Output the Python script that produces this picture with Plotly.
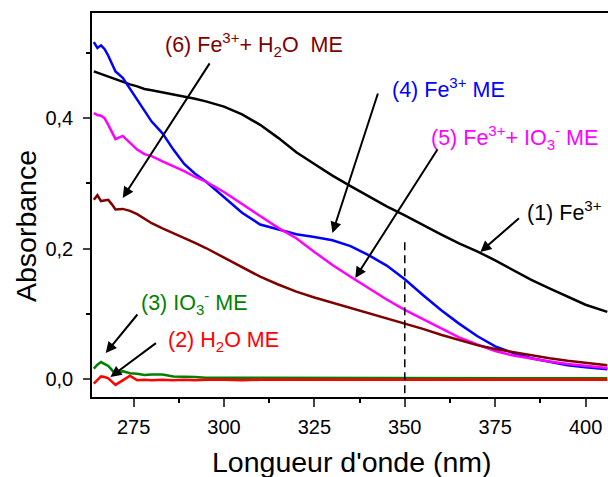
import plotly.graph_objects as go

# Wavelength grid (nm)
wavelength = [264, 265, 266, 267, 268, 269, 270, 272, 274, 276, 278, 280, 283, 286, 289, 292, 295,
              300, 305, 310, 315, 320, 325, 330, 335, 340, 345, 350, 355, 360, 365, 370, 375, 380,
              385, 390, 395, 400, 406]

abs_fe = [0.472, 0.470, 0.468, 0.466, 0.464, 0.462, 0.459, 0.455, 0.452, 0.449, 0.445, 0.443, 0.440,
          0.436, 0.433, 0.430, 0.426, 0.418, 0.406, 0.390, 0.370, 0.348, 0.330, 0.312, 0.296, 0.280,
          0.265, 0.251, 0.236, 0.222, 0.208, 0.196, 0.182, 0.167, 0.152, 0.139, 0.126, 0.114, 0.103]

abs_h2o_me = [-0.007, -0.001, 0.004, 0.003, 0.001, -0.004, -0.009, -0.002, 0.005, -0.002, -0.001,
              -0.002, -0.001, -0.002, -0.001, -0.002, -0.001, -0.001, -0.002, -0.001, -0.001, -0.001,
              -0.001, -0.001, -0.001, -0.001, -0.001, -0.001, -0.001, -0.001, -0.001, -0.001, -0.001,
              -0.001, -0.001, -0.001, -0.001, -0.001, -0.001]

abs_io3_me = [0.016, 0.022, 0.026, 0.023, 0.020, 0.014, 0.007, 0.012, 0.009, 0.008, 0.006, 0.007,
              0.007, 0.004, 0.004, 0.003, 0.002, 0.002, 0.002, 0.001, 0.001, 0.001, 0.001, 0.001,
              0.001, 0.001, 0.001, 0.001, 0.001, 0.001, 0.001, 0.001, 0.001, 0.001, 0.001, 0.001,
              0.001, 0.001, 0.001]

abs_fe_me = [0.517, 0.508, 0.512, 0.506, 0.496, 0.484, 0.472, 0.462, 0.445, 0.427, 0.410, 0.395,
             0.377, 0.352, 0.330, 0.315, 0.303, 0.279, 0.255, 0.237, 0.229, 0.222, 0.218, 0.213,
             0.204, 0.190, 0.174, 0.153, 0.129, 0.106, 0.085, 0.066, 0.050, 0.040, 0.032, 0.026,
             0.021, 0.018, 0.015]

abs_fe_io3_me = [0.408, 0.405, 0.404, 0.400, 0.390, 0.378, 0.368, 0.373, 0.362, 0.352, 0.345, 0.342,
                 0.334, 0.327, 0.319, 0.310, 0.303, 0.287, 0.268, 0.250, 0.232, 0.216, 0.195, 0.175,
                 0.157, 0.139, 0.122, 0.106, 0.092, 0.077, 0.064, 0.053, 0.043, 0.036, 0.031, 0.027,
                 0.023, 0.020, 0.017]

abs_fe_h2o_me = [0.275, 0.282, 0.273, 0.274, 0.275, 0.268, 0.260, 0.261, 0.258, 0.253, 0.246, 0.239,
                 0.231, 0.224, 0.216, 0.209, 0.201, 0.186, 0.171, 0.157, 0.145, 0.134, 0.125, 0.117,
                 0.110, 0.102, 0.094, 0.086, 0.077, 0.068, 0.060, 0.052, 0.046, 0.041, 0.036, 0.032,
                 0.028, 0.025, 0.021]

marker_wl = [350, 350]
marker_abs = [0.21, -0.03]

x_ticks = [275, 300, 325, 350, 375, 400]
y_ticks = [0.0, 0.2, 0.4]

FONT = "Liberation Sans, Arial, sans-serif"

fig = go.Figure()
series = [
    (abs_fe, "#000000"),
    (abs_fe_me, "#0000FF"),
    (abs_fe_io3_me, "#FF00FF"),
    (abs_fe_h2o_me, "#800000"),
    (abs_io3_me, "#008000"),
    (abs_h2o_me, "#FF0000"),
]
for ys, col in series:
    fig.add_trace(go.Scatter(x=wavelength, y=ys, mode="lines",
                             line=dict(color=col, width=2.5), showlegend=False))

fig.add_trace(go.Scatter(x=marker_wl, y=marker_abs, mode="lines",
                         line=dict(color="black", width=1.5, dash="8px,5px"), showlegend=False))

# Labels (text) and arrows
labels = [
    ("(6) Fe<sup>3+</sup>+ H<sub>2</sub>O  ME", 283.0, 0.514, "#800000"),
    ("(4) Fe<sup>3+</sup> ME", 345.8, 0.4465, "#0000FF"),
    ("(5) Fe<sup>3+</sup>+ IO<sub>3</sub><sup>-</sup> ME", 356.8, 0.370, "#FF00FF"),
    ("(1) Fe<sup>3+</sup>", 383.3, 0.258, "#000000"),
    ("(3) IO<sub>3</sub><sup>-</sup> ME", 276.4, 0.118, "#008000"),
    ("(2) H<sub>2</sub>O ME", 284.1, 0.0583, "#FF0000"),
]
for txt, x, y, col in labels:
    fig.add_annotation(x=x, y=y, xref="x", yref="y", text=txt, showarrow=False,
                       xanchor="left", yanchor="middle",
                       font=dict(family=FONT, size=21.5, color=col))

arrows = [
    (296.3, 0.4866, 272.0, 0.2778),
    (342.7, 0.4404, 330.0, 0.224),
    (359.3, 0.3544, 336.3, 0.155),
    (382.0, 0.2486, 370.9, 0.1949),
    (276.4, 0.1013, 267.3, 0.0399),
    (281.6, 0.0568, 268.6, 0.0031),
]
for ax, ay, x, y in arrows:
    fig.add_annotation(x=x, y=y, ax=ax, ay=ay, xref="x", yref="y", axref="x", ayref="y",
                       text="", showarrow=True, arrowhead=2, arrowsize=1.1, arrowwidth=2,
                       arrowcolor="black", standoff=0, startstandoff=0)

# Axis titles
fig.add_annotation(x=0.503, y=-0.169, xref="paper", yref="paper", text="Longueur d'onde (nm)",
                   showarrow=False, xanchor="center", yanchor="middle",
                   font=dict(family=FONT, size=28.5, color="black"))
fig.add_annotation(x=-0.128, y=0.445, xref="paper", yref="paper", text="Absorbance",
                   showarrow=False, xanchor="center", yanchor="middle", textangle=-90,
                   font=dict(family=FONT, size=28.5, color="black"))

fig.update_layout(
    width=608, height=477,
    margin=dict(l=92, r=0, t=13, b=80),
    paper_bgcolor="white", plot_bgcolor="white",
    separators=",.",
    font=dict(family=FONT, color="black"),
    xaxis=dict(
        range=[263.5, 406.2], tickvals=x_ticks, ticks="outside", ticklen=8, tickwidth=1.5,
        showline=True, linecolor="black", linewidth=1.5, mirror=True, showgrid=False,
        zeroline=False, tickfont=dict(size=20), ticklabelstandoff=3, automargin=False,
        minor=dict(tick0=262.5, dtick=12.5, ticks="outside", ticklen=4, tickwidth=1.5,
                   tickcolor="black", showgrid=False),
    ),
    yaxis=dict(
        range=[-0.0276, 0.5616], tickvals=y_ticks, tickformat=".1f", ticks="outside",
        ticklen=7, tickwidth=1.5, showline=True, linecolor="black", linewidth=1.5,
        showgrid=False, zeroline=False, tickfont=dict(size=20), ticklabelstandoff=6,
        automargin=False,
        minor=dict(tick0=0.1, dtick=0.2, ticks="outside", ticklen=4, tickwidth=1.5,
                   tickcolor="black", showgrid=False),
    ),
)

fig.write_html("out.html", config={"displayModeBar": False},
               post_script="document.body.style.margin='0px';")
